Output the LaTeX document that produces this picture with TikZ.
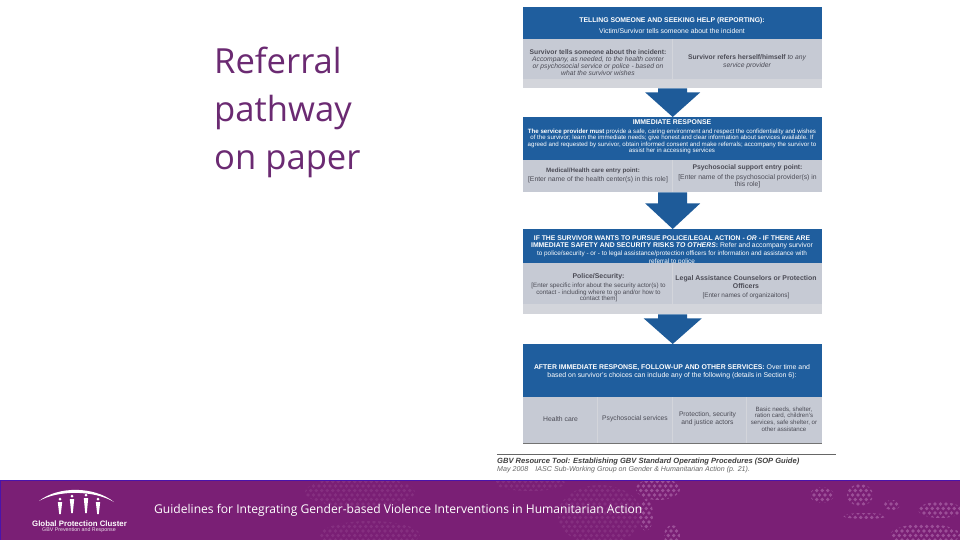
\documentclass[tikz,border=0pt]{standalone}
\usepackage{fontspec}
\setmainfont{Liberation Sans}
\newfontfamily\titlefont{Open Sans}
\usetikzlibrary{calc}
\definecolor{hdrblue}{HTML}{1F5E9E}
\definecolor{arrblue}{HTML}{1E5B99}
\definecolor{cellgrey}{HTML}{C6CAD4}
\definecolor{stripgrey}{HTML}{D3D5DB}
\definecolor{txtgrey}{HTML}{4B4B55}
\definecolor{footpurple}{HTML}{7A1F75}
\definecolor{dotdim}{HTML}{852F80}
\definecolor{dotbright}{HTML}{9C4F98}
\definecolor{titlepurple}{HTML}{6B2A72}
\newcommand{\hf}[2]{\fontsize{#1}{#2}\selectfont}
\newcommand{\sz}[1]{\fontsize{#1}{\baselineskip}\selectfont}
\tikzset{
  hdr/.style={anchor=north west,fill=hdrblue,inner sep=0pt,minimum width=299pt},
  hdrtext/.style={anchor=center,inner sep=0pt,text=white,align=center},
  cell/.style={anchor=north west,fill=cellgrey,inner sep=0pt},
  celltext/.style={anchor=center,inner sep=0pt,text=txtgrey,align=center},
  strip/.style={anchor=north west,fill=stripgrey,inner sep=0pt,minimum width=299pt},
  sep/.style={draw=stripgrey,line width=0.6pt},
  blockarrow/.style={fill=arrblue},
  titletext/.style={anchor=base west,inner sep=0pt,text=titlepurple,font=\titlefont\hf{34.6}{36}},
  figure/.style={fill=white}
}
% block arrow from anchor #1 (x taken from #2) to top of node #2, stem half width 14.5, head half width #3, stem length #4
\newcommand{\blockarr}[4]{%
  \fill[blockarrow] let \p1=(#1), \p2=(#2.north) in
    (\x2-14.5pt,\y1) -- (\x2+14.5pt,\y1) -- (\x2+14.5pt,\y1-#4pt) -- (\x2+#3pt,\y1-#4pt)
    -- (\x2,\y2) -- (\x2-#3pt,\y1-#4pt) -- (\x2-14.5pt,\y1-#4pt) -- cycle;}
% hex dot blob: centre, radii, colour
\newcommand{\dotblob}[5]{%
  \begin{scope}
    \clip (#1,#2) ellipse [x radius=#3,y radius=#4];
    \pgfmathtruncatemacro{\ia}{floor((#1-#3)/5.5)}
    \pgfmathtruncatemacro{\ib}{ceil((#1+#3)/5.5)}
    \pgfmathtruncatemacro{\ja}{floor((#2-#4)/4.5)}
    \pgfmathtruncatemacro{\jb}{ceil((#2+#4)/4.5)}
    \foreach \j in {\ja,...,\jb}{
      \foreach \i in {\ia,...,\ib}{
        \pgfmathsetmacro{\xx}{\i*5.5+mod(\j,2)*2.75}
        \fill[#5] (\xx,\j*4.5) circle [radius=1.9];
      }
    }
  \end{scope}}
\begin{document}
\begin{tikzpicture}[x=1pt,y=-1pt]
\useasboundingbox (0,0) rectangle (960,540);
\fill[white] (0,0) rectangle (960,540);

% title
\node[titletext] (t1) at (214,74) {Referral};
\node[titletext] (t2) at (214,122) {pathway};
\node[titletext] (t3) at (214,170) {on paper};

% box 1
\node[hdr,minimum height=32pt] (h1) at (523,7) {};
\node[hdrtext,font=\hf{6.85}{10.5}] (h1t) at (672,25.5) {{\bfseries TELLING  SOMEONE AND SEEKING HELP (REPORTING):}\\Victim/Survivor tells someone about the incident};
\node[strip,minimum height=9pt] (s1) at (523,79) {};
\node[cell,minimum width=149pt,minimum height=40pt] (c1a) at (523,39) {};
\node[cell,minimum width=150pt,minimum height=40pt] (c1b) at (672,39) {};
\node[celltext,font=\hf{6.75}{7}] (c1at) at (598,62.5) {{\bfseries Survivor tells someone about the incident:}\\{\itshape Accompany, as needed, to the health center}\\{\itshape or psychosocial service or police - based on}\\{\itshape what the survivor wishes}};
\node[celltext,font=\hf{6.75}{7.8}] (c1bt) at (747,62) {{\bfseries Survivor refers herself/himself} {\itshape to any}\\{\itshape service provider}};
\draw[sep] (c1b.north west) -- (c1b.south west);

% box 2
\node[hdr,minimum height=43pt] (h2) at (523,117) {};
\node[hdrtext,font=\bfseries\hf{6.9}{7}] (h2t) at (672,122) {IMMEDIATE RESPONSE};
\node[hdrtext,font=\hf{6.15}{6.4}] (h2b) at (672,141.5) {{\bfseries The service provider must} provide a safe, caring environment and respect the confidentiality and wishes\\of the survivor; learn the immediate needs; give honest and clear information about services available.  If\\agreed and requested by survivor, obtain informed consent and make referrals; accompany the survivor to\\assist her in accessing services};
\node[cell,minimum width=149pt,minimum height=32pt] (c2a) at (523,160) {};
\node[cell,minimum width=150pt,minimum height=32pt] (c2b) at (672,160) {};
\node[celltext,font=\hf{6.8}{9}] (c2at) at (598,175.5) {\hspace*{-10pt}{\bfseries\sz{6.2}Medical/Health care entry point:}\\{[}Enter name of the health center(s) in this role{]}};
\node[celltext,font=\hf{6.8}{7.4}] (c2bt) at (747.5,176) {{\bfseries Psychosocial support entry point:}\\[2.5pt]{[}Enter name of the psychosocial provider(s) in\\this role{]}};
\draw[sep] (c2b.north west) -- (c2b.south west);

% box 3
\node[hdr,minimum height=34pt] (h3) at (523,229) {};
\node[hdrtext,font=\hf{6.4}{7.7}] (h3t) at (672,250) {{\bfseries\sz{6.8}IF THE SURVIVOR WANTS TO PURSUE POLICE/LEGAL ACTION - {\itshape OR} - IF THERE ARE}\\{\sz{6.85}{\bfseries IMMEDIATE SAFETY AND SECURITY RISKS {\itshape TO OTHERS}:} Refer and accompany survivor}\\to police/security - or - to legal assistance/protection officers for information and assistance with\\referral to police};
\node[strip,minimum height=10pt] (s3) at (523,304) {};
\node[cell,minimum width=149pt,minimum height=41pt] (c3a) at (523,263) {};
\node[cell,minimum width=150pt,minimum height=41pt] (c3b) at (672,263) {};
\node[celltext,font=\hf{6.25}{6.6}] (c3at) at (598.5,288) {{\bfseries\sz{6.9}Police/Security:}\\[2.2pt]{[}Enter specific infor about the security actor(s) to\\contact - including where to go and/or how to\\contact them{]}};
\node[celltext,font=\hf{6.9}{8}] (c3bt) at (746,287.5) {{\bfseries Legal Assistance Counselors or Protection}\\{\bfseries Officers}\\[1pt]{\sz{6.4}{[}Enter names of organizaitons{]}}};
\draw[sep] (c3b.north west) -- (c3b.south west);

% box 4
\node[hdr,minimum height=53pt] (h4) at (523,344) {};
\node[hdrtext,font=\hf{6.9}{8}] (h4t) at (672,372) {{\bfseries AFTER IMMEDIATE RESPONSE, FOLLOW-UP AND OTHER SERVICES:} Over time and\\based on survivor's choices can include any of the following (details in Section 6):};
\node[cell,minimum width=74pt,minimum height=46pt] (c4a) at (523,397) {};
\node[cell,minimum width=75pt,minimum height=46pt] (c4b) at (597,397) {};
\node[cell,minimum width=74pt,minimum height=46pt] (c4c) at (672,397) {};
\node[cell,minimum width=76pt,minimum height=46pt] (c4d) at (746,397) {};
\node[celltext,font=\hf{6.8}{7}] (c4at) at (560.5,419) {Health care};
\node[celltext,font=\hf{6.7}{7}] (c4bt) at (635,419) {Psychosocial services};
\node[celltext,font=\hf{6.7}{7.8}] (c4ct) at (707.5,419) {Protection, security\\and justice actors};
\node[celltext,font=\hf{6.15}{6.7}] (c4dt) at (784,419) {Basic needs, shelter,\\ration card, children's\\services, safe shelter, or\\other assistance};
\draw[sep] (c4b.north west) -- (c4b.south west) (c4c.north west) -- (c4c.south west) (c4d.north west) -- (c4d.south west);
\draw[line width=0.7pt,black!55] (c4a.south west) -- (c4d.south east);

% arrows
\blockarr{s1.south}{h2}{27.5}{4}
\blockarr{c2a.south east}{h3}{27.5}{11}
\blockarr{s3.south}{h4}{29}{4}

% source line
\coordinate (la) at (497,454);
\coordinate (lb) at (836,454);
\draw[line width=0.6pt,black!60] (la) -- (lb);
\node[anchor=base west,inner sep=0pt,text=black!75,font=\bfseries\itshape\hf{7.55}{8}] (src1) at (497,463) {GBV Resource Tool:  Establishing GBV Standard Operating Procedures (SOP Guide)};
\node[anchor=base west,inner sep=0pt,text=black!60,font=\itshape\hf{7.1}{8}] (src2) at (497,471.5) {May 2008\quad IASC Sub-Working Group on Gender \& Humanitarian Action (p. 21).};

% footer
\fill[footpurple] (0,480) rectangle (960,540);
\begin{scope}
  \clip (0,480) rectangle (960,540);
  \dotblob{360}{492}{55}{15}{dotdim}
  \dotblob{370}{535}{50}{14}{dotdim}
  \dotblob{530}{483}{35}{8}{dotdim}
  \dotblob{600}{515}{42}{30}{dotdim}
  \dotblob{658}{489}{22}{11}{dotbright}
  \dotblob{646}{515}{7}{16}{dotbright}
  \dotblob{672}{536}{8}{11}{dotbright}
  \dotblob{860}{495}{13}{11}{dotbright}
  \dotblob{822}{495}{12}{8}{dotbright}
  \dotblob{892}{505}{8}{5}{dotbright}
  \dotblob{940}{510}{22}{8}{dotbright}
  \dotblob{865}{516}{22}{3}{dotbright}
  \dotblob{925}{535}{35}{11}{dotbright}
\end{scope}
\draw[line width=1pt,color=footpurple!60!blue] (0,480) -- (960,480);
\draw[line width=1pt,color=footpurple!60!blue] (0,480) -- (0,540);

% logo
\fill[white] (39,501) .. controls (58,486) and (94,486) .. (114,502) .. controls (94,490) and (58,490) .. (39,501) -- cycle;
\foreach \fx/\fy/\fh in {60/499/12,72/496/14,86/495/15,98/499/12}{
  \fill[figure] (\fx,\fy) circle [radius=1.5];
  \fill[figure] (\fx-2.2,\fy+3) -- (\fx+2.2,\fy+3) -- (\fx+0.8,\fy+\fh+3) -- (\fx-0.8,\fy+\fh+3) -- cycle;
}
\node[anchor=center,inner sep=0pt,text=white,font=\bfseries\hf{7.85}{8}] (lg1) at (79.5,524) {Global Protection Cluster};
\node[anchor=center,inner sep=0pt,text=white!85!footpurple,font=\hf{5.3}{6}] (lg2) at (79,530.5) {GBV Prevention and Response};

% footer text
\node[anchor=base west,inner sep=0pt,text=white,font=\titlefont\hf{12.08}{13}] (ft) at (154,513) {Guidelines for Integrating Gender-based Violence Interventions in Humanitarian Action};
\end{tikzpicture}
\end{document}
